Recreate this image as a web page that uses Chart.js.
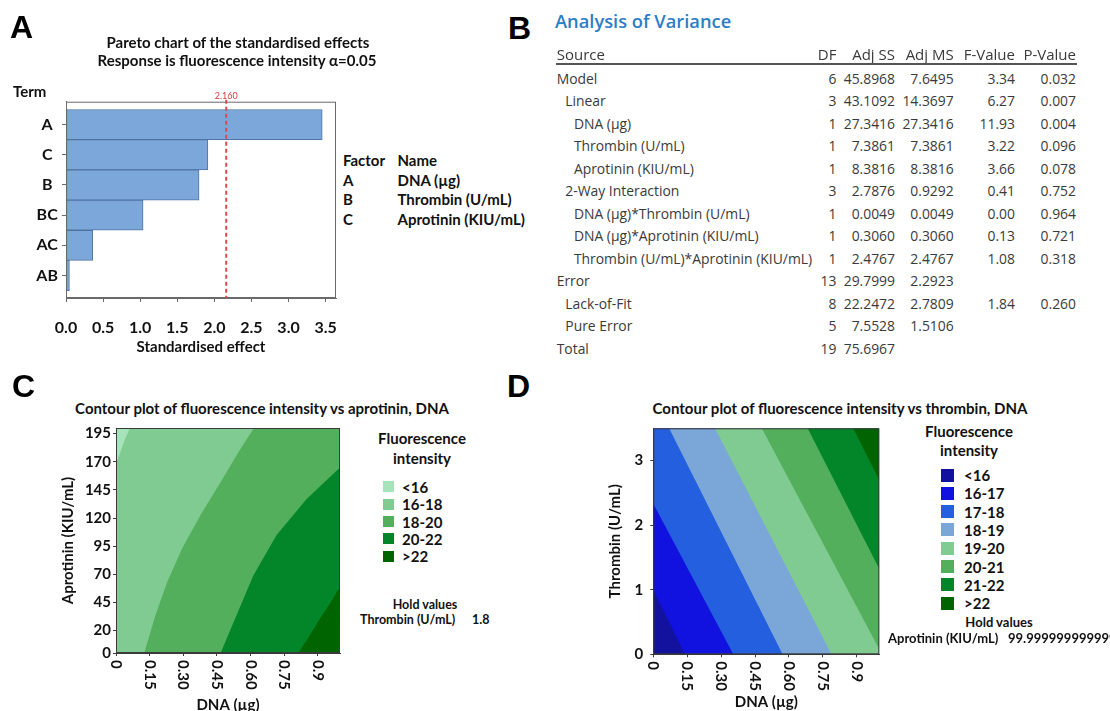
<!DOCTYPE html>
<html lang="en">
<head>
<meta charset="utf-8">
<title>Fluorescence intensity – Pareto, ANOVA and contour plots</title>
<script src="https://cdn.jsdelivr.net/npm/chart.js@4.4.1/dist/chart.umd.min.js"></script>
<style>
  html, body { margin: 0; padding: 0; background: #fff; }
  body { position: relative; width: 1110px; height: 711px; overflow: hidden; }
  canvas { position: absolute; }
  .txt { position: absolute; white-space: nowrap; line-height: 1; font-family: Lato, 'Noto Sans', sans-serif; font-weight: bold; font-size: 15px; color: #111; }
  .letter { font-family: 'Liberation Sans', Arial, sans-serif; font-size: 32px; color: #000; }
  .anova { font-family: 'Open Sans', 'Noto Sans', sans-serif; font-weight: normal; font-size: 13.9px; color: #3a3a3a; }
  .anova-head { font-family: 'Open Sans', 'Noto Sans', sans-serif; font-weight: normal; font-size: 15px; color: #3a3a3a; }
  .anova-title { font-family: 'Open Sans', 'Noto Sans', sans-serif; font-weight: 600; font-size: 18.3px; color: #2a7ec6; }
  .swatch { position: absolute; }
</style>
</head>
<body>
<canvas id="paretoChart" width="340" height="360" style="left:0;top:0"></canvas>
<canvas id="aprotininChart" width="310" height="300" style="left:40px;top:420px"></canvas>
<canvas id="thrombinChart" width="310" height="300" style="left:580px;top:420px"></canvas>
<script>
// A - Pareto chart of the standardised effects
const terms = ['A', 'C', 'B', 'BC', 'AC', 'AB'];
const effects = [3.454, 1.913, 1.794, 1.039, 0.361, 0.046];
const criticalEffect = 2.160;
const effectTicks = [0, 0.5, 1, 1.5, 2, 2.5, 3, 3.5];
const factorCodes = ['A', 'B', 'C'];
const factorNames = ['DNA (µg)', 'Thrombin (U/mL)', 'Aprotinin (KIU/mL)'];

// B - Analysis of variance
const anovaSource = ['Model', 'Linear', 'DNA (µg)', 'Thrombin (U/mL)', 'Aprotinin (KIU/mL)', '2-Way Interaction',
  'DNA (µg)*Thrombin (U/mL)', 'DNA (µg)*Aprotinin (KIU/mL)', 'Thrombin (U/mL)*Aprotinin (KIU/mL)',
  'Error', 'Lack-of-Fit', 'Pure Error', 'Total'];
const anovaIndent = [0, 1, 2, 2, 2, 1, 2, 2, 2, 0, 1, 1, 0];
const anovaDF = ['6', '3', '1', '1', '1', '3', '1', '1', '1', '13', '8', '5', '19'];
const anovaAdjSS = ['45.8968', '43.1092', '27.3416', '7.3861', '8.3816', '2.7876', '0.0049', '0.3060', '2.4767', '29.7999', '22.2472', '7.5528', '75.6967'];
const anovaAdjMS = ['7.6495', '14.3697', '27.3416', '7.3861', '8.3816', '0.9292', '0.0049', '0.3060', '2.4767', '2.2923', '2.7809', '1.5106', ''];
const anovaF = ['3.34', '6.27', '11.93', '3.22', '3.66', '0.41', '0.00', '0.13', '1.08', '', '1.84', '', ''];
const anovaP = ['0.032', '0.007', '0.004', '0.096', '0.078', '0.752', '0.964', '0.721', '0.318', '', '0.260', '', ''];
const anovaHeads = ['DF', 'Adj SS', 'Adj MS', 'F-Value', 'P-Value'];

// C, D - contour plots
const dnaRange = [0, 1];
const dnaTicks = [0, 0.15, 0.30, 0.45, 0.60, 0.75, 0.9];
const dnaTickLabels = ['0', '0.15', '0.30', '0.45', '0.60', '0.75', '0.9'];
const aprotininRange = [0, 200];
const aprotininTicks = [0, 20, 45, 70, 95, 120, 145, 170, 195];
const thrombinRange = [0, 3.5];
const thrombinTicks = [0, 1, 2, 3];

const aproLevels = ['<16', '16-18', '18-20', '20-22', '>22'];
const aproColors = ['#a6e3ba', '#80cb91', '#53af5c', '#03862a', '#006500'];
// lower edge of each band as [DNA, aprotinin]
const aproEdge16 = [[0, 168], [0.02, 179], [0.04, 190], [0.062, 200]];
const aproEdge18 = [[0.126, 0], [0.175, 33], [0.228, 63], [0.295, 93], [0.378, 123], [0.47, 153], [0.545, 178], [0.616, 200]];
const aproEdge20 = [[0.467, 0], [0.539, 34], [0.613, 69], [0.717, 105], [0.851, 137], [1, 165]];
const aproEdge22 = [[0.814, 0], [0.86, 14], [0.905, 29], [0.955, 44], [1, 59]];

const thrLevels = ['<16', '16-17', '17-18', '18-19', '19-20', '20-21', '21-22', '>22'];
const thrColors = ['#12129e', '#1111e0', '#235fdf', '#7ba6d8', '#80cb91', '#53af5c', '#03862a', '#006500'];
// lower edge of each band as [DNA, thrombin]
const thrEdge16 = [[0, 1.0], [0.14, 0]];
const thrEdge17 = [[0, 2.33], [0.354, 0]];
const thrEdge18 = [[0.07, 3.5], [0.572, 0]];
const thrEdge19 = [[0.273, 3.5], [0.788, 0]];
const thrEdge20 = [[0.48, 3.5], [1, 0.08]];
const thrEdge21 = [[0.683, 3.5], [1, 1.32]];
const thrEdge22 = [[0.884, 3.5], [1, 2.7]];

Chart.defaults.font.family = "Lato, 'Noto Sans', sans-serif";
Chart.defaults.font.size = 15;
Chart.defaults.font.weight = 'bold';
Chart.defaults.color = '#111';

// fixed axis size, and no extra room for overhanging tick labels
const fitAxis = (w, h) => s => {
  if (w != null) s.width = w;
  if (h != null) s.height = h;
  s.paddingLeft = s.paddingRight = s.paddingTop = s.paddingBottom = 0;
};

// frame round the plot area
const boxPlugin = color => ({
  id: 'box',
  afterDatasetsDraw(chart) {
    const { ctx, chartArea: a } = chart;
    ctx.save();
    ctx.strokeStyle = color;
    ctx.lineWidth = 1;
    ctx.strokeRect(a.left + 0.5, a.top + 0.5, a.width - 1, a.height - 1);
    ctx.restore();
  }
});

// dashed reference line at the critical t value
const criticalLine = {
  id: 'criticalLine',
  afterDatasetsDraw(chart) {
    const { ctx, chartArea: a, scales: { x } } = chart;
    const px = x.getPixelForValue(criticalEffect);
    ctx.save();
    ctx.strokeStyle = '#e3464b';
    ctx.lineWidth = 2;
    ctx.setLineDash([4, 3]);
    ctx.beginPath();
    ctx.moveTo(px, a.top - 2);
    ctx.lineTo(px, a.bottom);
    ctx.stroke();
    ctx.fillStyle = '#d23c40';
    ctx.font = '9px Lato';
    ctx.textAlign = 'center';
    ctx.textBaseline = 'middle';
    ctx.fillText(criticalEffect.toFixed(3), px, a.top - 6);
    ctx.restore();
  }
};

// x tick labels turned 90° clockwise, like the original
const rotatedTicks = {
  id: 'rotatedTicks',
  afterDraw(chart) {
    const { ctx, scales: { x } } = chart;
    ctx.save();
    ctx.font = "bold 15px Lato, 'Noto Sans', sans-serif";
    ctx.fillStyle = '#111';
    ctx.textAlign = 'left';
    ctx.textBaseline = 'middle';
    dnaTicks.forEach((v, i) => {
      ctx.save();
      ctx.translate(x.getPixelForValue(v), x.top + 7);
      ctx.rotate(Math.PI / 2);
      ctx.fillText(dnaTickLabels[i], 0, 0);
      ctx.restore();
    });
    ctx.restore();
  }
};

new Chart(document.getElementById('paretoChart'), {
  type: 'bar',
  data: {
    datasets: [{
      data: effects.map((v, i) => ({ x: v, y: i })),
      backgroundColor: '#7ba7da',
      borderColor: '#4f73a3',
      borderWidth: 1,
      borderSkipped: false,
      barPercentage: 1,
      categoryPercentage: 1
    }]
  },
  options: {
    indexAxis: 'y',
    responsive: false,
    animation: false,
    events: [],
    layout: { padding: { top: 101.7, right: 4, left: 0, bottom: 0 } },
    plugins: { legend: { display: false }, tooltip: { enabled: false } },
    scales: {
      x: {
        type: 'linear', min: 0, max: 3.64,
        afterBuildTicks: s => { s.ticks = effectTicks.map(value => ({ value })); },
        ticks: { padding: 16, font: { size: 16 }, callback: v => v.toFixed(1) },
        grid: { drawOnChartArea: false, tickLength: 4, color: '#6a6a6a' },
        border: { color: '#6a6a6a' },
        title: { display: true, text: 'Standardised effect', font: { size: 15 }, padding: { top: 0, bottom: 4 } },
        afterFit: fitAxis(null, 62)
      },
      y: {
        type: 'linear', reverse: true, min: -0.758, max: 5.745, offset: false,
        afterBuildTicks: s => { s.ticks = terms.map((t, i) => ({ value: i })); },
        ticks: { crossAlign: 'center', padding: 4, font: { size: 16 }, callback: v => terms[v] },
        grid: { offset: false, drawOnChartArea: false, tickLength: 4, color: '#6a6a6a' },
        border: { color: '#6a6a6a' },
        afterFit: fitAxis(66, null)
      }
    }
  },
  plugins: [boxPlugin('#6a6a6a'), criticalLine]
});

// each band is filled from its lower edge towards the high corner, drawn low to high
function bandSets(edges, colors, fill, yEdge) {
  return edges.map((edge, i) => {
    const pts = edge.map(([x, y]) => ({ x, y }));
    const [lx, ly] = edge[edge.length - 1];
    if (ly === yEdge && lx < dnaRange[1]) pts.push({ x: dnaRange[1], y: yEdge });
    return { data: pts, fill, backgroundColor: colors[i], borderWidth: 0, pointRadius: 0, order: edges.length - i };
  });
}

function contourChart(id, c) {
  return new Chart(document.getElementById(id), {
    type: 'line',
    data: { datasets: bandSets(c.edges, c.colors, c.fill, c.yEdge) },
    options: {
      responsive: false,
      animation: false,
      events: [],
      layout: { padding: c.padding },
      plugins: { legend: { display: false }, tooltip: { enabled: false } },
      scales: {
        x: {
          type: 'linear', min: dnaRange[0], max: dnaRange[1],
          afterBuildTicks: s => { s.ticks = dnaTicks.map(value => ({ value })); },
          ticks: { display: false, autoSkip: false },
          grid: { drawOnChartArea: false, tickLength: 3, color: '#3a3a3a' },
          border: { color: '#3a3a3a' },
          title: { display: true, text: 'DNA (µg)', padding: { top: 0, bottom: c.xTitlePad } },
          afterFit: fitAxis(null, c.xHeight)
        },
        y: {
          type: 'linear', min: c.yRange[0], max: c.yRange[1],
          afterBuildTicks: s => { s.ticks = c.yTicks.map(value => ({ value })); },
          ticks: { padding: c.yTickPad, autoSkip: false },
          grid: { drawOnChartArea: false, tickLength: 3, color: '#3a3a3a' },
          border: { color: '#3a3a3a' },
          title: { display: true, text: c.yTitle, padding: { top: c.yTitlePad, bottom: 0 } },
          afterFit: fitAxis(c.yWidth, null)
        }
      }
    },
    plugins: [boxPlugin('#3a3a3a'), rotatedTicks]
  });
}

contourChart('aprotininChart', {
  edges: [[[dnaRange[0], aprotininRange[1]], [dnaRange[1], aprotininRange[1]]], aproEdge16, aproEdge18, aproEdge20, aproEdge22],
  colors: aproColors, fill: 'start', yEdge: aprotininRange[1],
  yRange: aprotininRange, yTicks: aprotininTicks, yTitle: 'Aprotinin (KIU/mL)',
  padding: { left: 0, top: 8, right: 10, bottom: 0 },
  yWidth: 76, yTickPad: 2, yTitlePad: 19, xHeight: 67, xTitlePad: 6
});

contourChart('thrombinChart', {
  edges: [[[dnaRange[0], thrombinRange[0]], [dnaRange[1], thrombinRange[0]]], thrEdge16, thrEdge17, thrEdge18, thrEdge19, thrEdge20, thrEdge21, thrEdge22],
  colors: thrColors, fill: 'end', yEdge: thrombinRange[0],
  yRange: thrombinRange, yTicks: thrombinTicks, yTitle: 'Thrombin (U/mL)',
  padding: { left: 0, top: 8.3, right: 10.7, bottom: 0 },
  yWidth: 73.3, yTickPad: 7, yTitlePad: 26, xHeight: 65.7, xTitlePad: 9
});

// plain text parts of the figure
function put(text, x, y, cls, align, size) {
  const d = document.createElement('div');
  d.className = 'txt ' + (cls || '');
  d.textContent = text;
  d.style.left = x + 'px';
  d.style.top = y + 'px';
  if (size) d.style.fontSize = size + 'px';
  const tx = align === 'center' ? '-50%' : align === 'right' ? '-100%' : '0';
  d.style.transform = `translate(${tx}, -50%)`;
  document.body.appendChild(d);
  return d;
}

function swatch(color, x, y, size) {
  const s = document.createElement('div');
  s.className = 'swatch';
  s.style.cssText = `left:${x}px;top:${y - size / 2}px;width:${size}px;height:${size}px;background:${color}`;
  document.body.appendChild(s);
}

put('A', 10, 26.5, 'letter');
put('B', 508, 27.5, 'letter');
put('C', 12, 386, 'letter');
put('D', 507, 386, 'letter');

// panel A texts
put('Pareto chart of the standardised effects', 238, 42, '', 'center');
put('Response is fluorescence intensity α=0.05', 237, 60, '', 'center');
put('Term', 13, 91);
put('Factor', 343, 160);
put('Name', 397.5, 160);
factorCodes.forEach((f, i) => {
  put(f, 343, 179.5 + i * 19.5);
  put(factorNames[i], 397.5, 179.5 + i * 19.5);
});

// panel B table
put('Analysis of Variance', 555, 21, 'anova-title');
const colRight = [836.5, 895, 953.7, 1015, 1076];
put('Source', 556.7, 54, 'anova-head');
anovaHeads.forEach((h, j) => put(h, colRight[j], 54, 'anova-head', 'right'));
const rule = document.createElement('div');
rule.style.cssText = 'position:absolute;left:556px;top:63px;width:521px;height:2px;background:#555';
document.body.appendChild(rule);
const anovaCols = [anovaDF, anovaAdjSS, anovaAdjMS, anovaF, anovaP];
anovaSource.forEach((src, i) => {
  const y = 78.5 + i * 22.5;
  put(src, 556.7 + anovaIndent[i] * 8.6, y, 'anova');
  anovaCols.forEach((col, j) => { if (col[i]) put(col[i], colRight[j], y, 'anova', 'right'); });
});

// panel C title and legend
put('Contour plot of fluorescence intensity vs aprotinin, DNA', 262, 408, '', 'center');
put('Fluorescence', 422, 438, '', 'center');
put('intensity', 422, 458, '', 'center');
aproLevels.forEach((lv, i) => {
  swatch(aproColors[i], 383, 486.7 + i * 17.4, 11);
  put(lv, 402, 486.7 + i * 17.4);
});
put('Hold values', 425, 605, '', 'center', 12.5);
put('Thrombin (U/mL)', 360, 620, '', null, 12.5);
put('1.8', 472, 620, '', null, 12.5);

// panel D title and legend
put('Contour plot of fluorescence intensity vs thrombin, DNA', 840, 408, '', 'center');
put('Fluorescence', 969, 431, '', 'center');
put('intensity', 969, 449.5, '', 'center');
thrLevels.forEach((lv, i) => {
  swatch(thrColors[i], 941, 475 + i * 18.33, 13);
  put(lv, 964, 475 + i * 18.33);
});
put('Hold values', 999, 622, '', 'center', 13);
put('Aprotinin (KIU/mL)', 888, 638, '', null, 13);
put('99.999999999999', 1008, 638, '', null, 13);
</script>
</body>
</html>
